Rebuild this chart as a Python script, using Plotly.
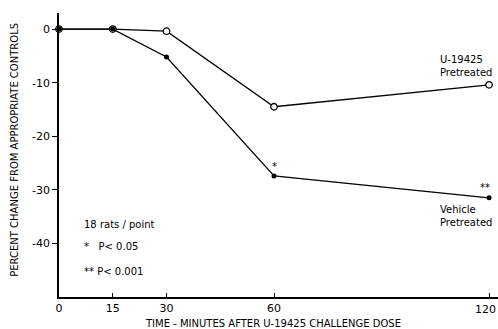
import plotly.graph_objects as go

time_min = [0, 15, 30, 60, 120]
u19425_pretreated = [0, 0, -0.4, -14.5, -10.4]
vehicle_pretreated = [0, 0, -5.2, -27.4, -31.5]
x_ticks = [0, 15, 30, 60, 120]
x_tick_labels = ["0", "15", "30", "60", "120"]
y_ticks = [0, -10, -20, -30, -40]
y_tick_labels = ["0", "-10", "-20", "-30", "-40"]

FONT = "DejaVu Sans"
fig = go.Figure()
fig.add_trace(go.Scatter(
    x=time_min, y=u19425_pretreated, mode="lines+markers",
    line=dict(color="black", width=1.3),
    marker=dict(symbol="circle", size=6.5, color="white", line=dict(color="black", width=1.3)),
    showlegend=False, cliponaxis=False))
fig.add_trace(go.Scatter(
    x=time_min, y=vehicle_pretreated, mode="lines+markers",
    line=dict(color="black", width=1.3),
    marker=dict(symbol="circle", size=5, color="black"),
    showlegend=False, cliponaxis=False))

fig.update_xaxes(range=[0, 122.5], showline=True, linecolor="black", linewidth=1.5,
                 tickvals=x_ticks, ticktext=x_tick_labels[:-1] + [""],
                 ticks="inside", ticklen=4, tickcolor="black",
                 showgrid=False, zeroline=False,
                 tickfont=dict(family=FONT, size=11, color="black"))
fig.update_yaxes(range=[-50, 3], showline=True, linecolor="black", linewidth=1.5,
                 tickvals=y_ticks, ticktext=y_tick_labels,
                 ticks="outside", ticklen=5, tickcolor="black",
                 showgrid=False, zeroline=False,
                 tickfont=dict(family=FONT, size=11, color="black"))

# last x tick label placed as annotation, kept inside the right edge
fig.add_annotation(xref="paper", yref="paper", x=1, y=0, yshift=-4,
                   text=x_tick_labels[-1], showarrow=False, xanchor="right", yanchor="top",
                   font=dict(family=FONT, size=11, color="black"))

ann_font = dict(family=FONT, size=10, color="black")
annotations = [
    dict(x=105.8, y=-6.8, text="U-19425<br>Pretreated", xanchor="left", align="left"),
    dict(x=105.8, y=-34.9, text="Vehicle<br>Pretreated", xanchor="left", align="left"),
    dict(x=60.2, y=-25.7, text="*", xanchor="center"),
    dict(x=118.9, y=-29.5, text="**", xanchor="center"),
    dict(x=6.4, y=-36.5, text="18 rats / point", xanchor="left"),
    dict(x=6.4, y=-40.6, text="*&nbsp;&nbsp;&nbsp;P< 0.05", xanchor="left"),
    dict(x=6.4, y=-45.2, text="** P< 0.001", xanchor="left"),
]
for a in annotations:
    fig.add_annotation(xref="x", yref="y", showarrow=False, font=ann_font, yanchor="middle", **a)

fig.add_annotation(xref="paper", yref="paper", x=(273 - 59) / 439, y=-0.095,
                   text="TIME - MINUTES AFTER U-19425 CHALLENGE DOSE", showarrow=False,
                   xanchor="center", yanchor="middle", font=dict(family=FONT, size=10, color="black"))
fig.add_annotation(xref="paper", yref="paper", x=-44 / 439, y=(297.5 - 150) / 284.5,
                   text="PERCENT CHANGE FROM APPROPRIATE CONTROLS", textangle=-90, showarrow=False,
                   xanchor="center", yanchor="middle", font=dict(family=FONT, size=10, color="black"))

fig.update_layout(width=498, height=329, margin=dict(l=59, r=0, t=13, b=31.5),
                  plot_bgcolor="white", paper_bgcolor="white")
fig.write_html("out.html", config={"displayModeBar": False},
               post_script="document.body.style.margin='0';document.body.style.overflow='hidden';")
